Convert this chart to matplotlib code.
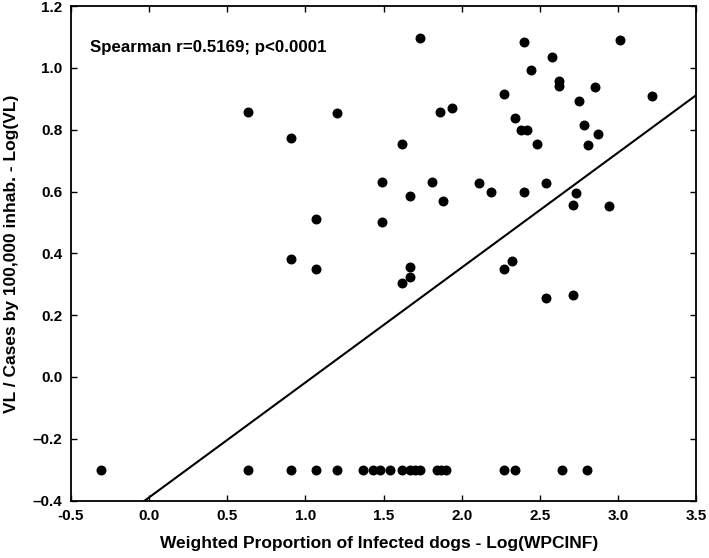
import numpy as np
import matplotlib
matplotlib.use("Agg")
import matplotlib.pyplot as plt

# points (log scales)
wpcinf = [0.63, 1.20, 0.91, 1.49, 1.07, 1.49, 0.91, 1.07,
          1.73, 2.40, 3.01, 2.58, 2.44, 2.62, 2.62, 2.85, 2.27, 3.22,
          2.75, 1.86, 1.94, 2.34, 2.38, 2.42, 2.78, 2.87, 1.62, 2.48,
          2.81, 1.81, 2.11, 2.54, 2.19, 2.40, 1.67, 2.73, 1.88, 2.71,
          2.94, 1.67, 1.67, 1.62, 2.27, 2.32, 2.54, 2.71]
vl_cases = [0.856, 0.853, 0.774, 0.631, 0.511, 0.501, 0.383, 0.350,
            1.097, 1.085, 1.091, 1.034, 0.994, 0.958, 0.943, 0.937, 0.917, 0.910,
            0.892, 0.857, 0.871, 0.838, 0.800, 0.800, 0.814, 0.787, 0.754, 0.753,
            0.750, 0.630, 0.627, 0.627, 0.597, 0.597, 0.587, 0.594, 0.568, 0.558,
            0.554, 0.356, 0.324, 0.305, 0.348, 0.374, 0.254, 0.264]

# municipalities with no cases, plotted at -0.3
wpcinf_zero = [-0.31, 0.63, 0.91, 1.07, 1.20, 1.37, 1.43, 1.48, 1.54,
               1.62, 1.67, 1.70, 1.73, 1.84, 1.87, 1.90, 2.27, 2.34, 2.64, 2.80]
vl_zero = -0.30

fit_intercept = -0.390
fit_slope = 0.372

xticks = [-0.5, 0.0, 0.5, 1.0, 1.5, 2.0, 2.5, 3.0, 3.5]
yticks = [-0.4, -0.2, 0.0, 0.2, 0.4, 0.6, 0.8, 1.0, 1.2]

plt.rcParams["font.family"] = ["Liberation Sans", "DejaVu Sans"]

fig = plt.figure(figsize=(7.09, 5.58), dpi=100)
ax = fig.add_axes([0.100, 0.103, 0.882, 0.886])

ax.scatter(wpcinf, vl_cases, s=38, color="black", zorder=3)
ax.scatter(wpcinf_zero, [vl_zero] * len(wpcinf_zero), s=38, color="black", zorder=3)

xs = np.array([-0.5, 3.5])
ax.plot(xs, fit_intercept + fit_slope * xs, color="black", lw=1.5, zorder=2)

ax.set_xlim(-0.5, 3.5)
ax.set_ylim(-0.4, 1.2)
ax.set_xticks(xticks)
ax.set_yticks(yticks)
ax.set_xticklabels([f"{t:.1f}" for t in xticks])
ax.set_yticklabels([f"{t:.1f}".replace("-", "\u2013") for t in yticks])
ax.tick_params(direction="in", length=4, width=1, top=True, right=True,
               labelsize=11, pad=6)
for lab in ax.get_xticklabels() + ax.get_yticklabels():
    lab.set_fontweight("bold")
for sp in ax.spines.values():
    sp.set_linewidth(1.3)

ax.set_xlabel("Weighted Proportion of Infected dogs - Log(WPCINF)",
              fontsize=12.5, fontweight="bold")
ax.set_ylabel("VL / Cases by 100,000 inhab. - Log(VL)",
              fontsize=12.5, fontweight="bold")
ax.xaxis.set_label_coords(0.493, -0.071)
ax.yaxis.set_label_coords(-0.083, 0.5)

ax.text(-0.38, 1.065, "Spearman r=0.5169; p<0.0001", fontsize=12.2,
        fontweight="bold", va="center", ha="left")

fig.savefig("out.png", dpi=100)
